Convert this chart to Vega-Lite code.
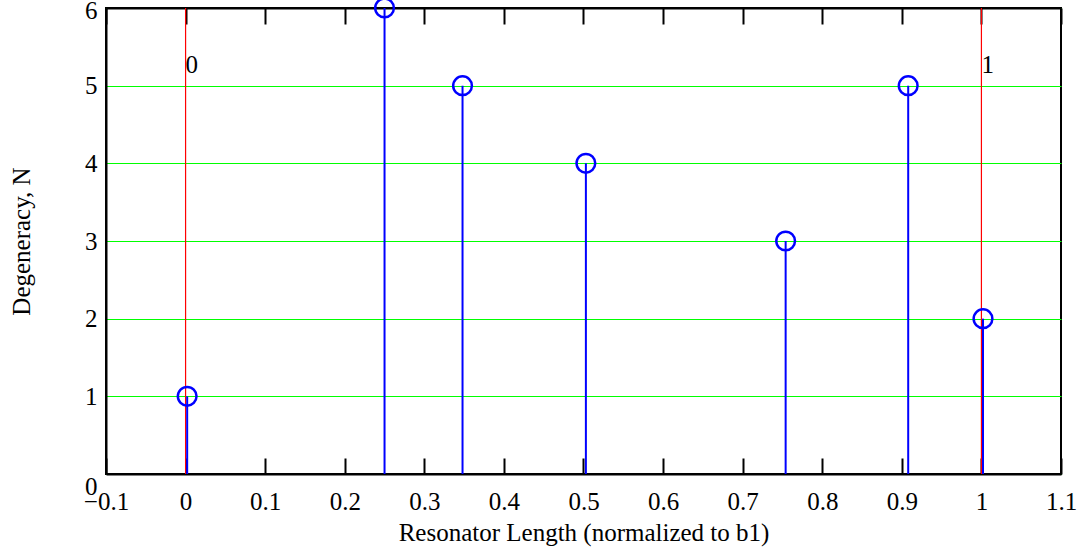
{
  "$schema": "https://vega.github.io/schema/vega-lite/v6.json",
  "width": 955,
  "height": 466,
  "autosize": "none",
  "padding": {"left": 106, "top": 8, "right": 20, "bottom": 76},
  "background": "white",
  "config": {
    "font": "Liberation Serif",
    "view": {"stroke": "black", "strokeWidth": 2},
    "axis": {
      "labelFont": "Liberation Serif",
      "titleFont": "Liberation Serif",
      "labelFontSize": 25,
      "titleFontSize": 25,
      "titleFontWeight": "normal",
      "labelColor": "black",
      "titleColor": "black",
      "domainColor": "black",
      "domainWidth": 2,
      "tickColor": "black",
      "tickWidth": 2
    }
  },
  "datasets": {
    "stems": [
      {"x": 0.002, "N": 1},
      {"x": 0.25, "N": 6},
      {"x": 0.348, "N": 5},
      {"x": 0.503, "N": 4},
      {"x": 0.754, "N": 3},
      {"x": 0.908, "N": 5},
      {"x": 1.002, "N": 2}
    ],
    "marks": [
      {"x": 0, "label": "0"},
      {"x": 1, "label": "1"}
    ]
  },
  "resolve": {"axis": {"x": "independent", "y": "independent"}},
  "layer": [
    {
      "data": {"name": "marks"},
      "mark": {"type": "rule", "color": "#ff0000", "strokeWidth": 1.2},
      "encoding": {
        "x": {"field": "x", "type": "quantitative", "scale": {"domain": [-0.1, 1.1], "nice": false, "zero": false},
          "axis": {"orient": "top", "labels": false, "title": null, "tickSize": -16, "values": [-0.1, 0, 0.1, 0.2, 0.3, 0.4, 0.5, 0.6, 0.7, 0.8, 0.9, 1, 1.1], "grid": false, "domain": true}}
      }
    },
    {
      "data": {"name": "marks"},
      "mark": {"type": "text", "align": "left", "baseline": "middle", "dx": 0, "fontSize": 25, "font": "Liberation Serif", "color": "black"},
      "encoding": {
        "x": {"field": "x", "type": "quantitative", "scale": {"domain": [-0.1, 1.1], "nice": false, "zero": false}, "axis": null},
        "y": {"datum": 5.27, "type": "quantitative", "scale": {"domain": [0, 6], "nice": false}, "axis": null},
        "text": {"field": "label"}
      }
    },
    {
      "data": {"name": "stems"},
      "mark": {"type": "rule", "color": "#0000ff", "strokeWidth": 2},
      "encoding": {
        "x": {"field": "x", "type": "quantitative", "scale": {"domain": [-0.1, 1.1], "nice": false, "zero": false}, "axis": null},
        "y": {"field": "N", "type": "quantitative", "scale": {"domain": [0, 6], "nice": false}, "axis": null},
        "y2": {"datum": 0}
      }
    },
    {
      "data": {"name": "stems"},
      "mark": {"type": "point", "shape": "circle", "filled": false, "color": "#0000ff", "strokeWidth": 2.5, "size": 350, "opacity": 1},
      "encoding": {
        "x": {"field": "x", "type": "quantitative", "scale": {"domain": [-0.1, 1.1], "nice": false, "zero": false},
          "axis": {"orient": "bottom", "title": "Resonator Length (normalized to b1)", "tickSize": -16, "labelPadding": 31, "titlePadding": 6, "values": [-0.1, 0, 0.1, 0.2, 0.3, 0.4, 0.5, 0.6, 0.7, 0.8, 0.9, 1, 1.1], "format": ".2~f", "labelFlush": false, "grid": false}},
        "y": {"field": "N", "type": "quantitative", "scale": {"domain": [0, 6], "nice": false},
          "axis": {"orient": "left", "title": "Degeneracy, N", "ticks": false, "labelPadding": 9, "titlePadding": 50, "values": [0, 1, 2, 3, 4, 5, 6], "grid": true, "gridColor": "#00ff00", "gridWidth": 1, "gridOpacity": 1, "labelFlush": false,
            "labelBaseline": {"condition": {"test": "datum.value == 0", "value": "top"}, "value": "middle"},
            "labelOffset": {"condition": {"test": "datum.value == 6", "value": 2}, "value": 0}}}
      }
    }
  ]
}
